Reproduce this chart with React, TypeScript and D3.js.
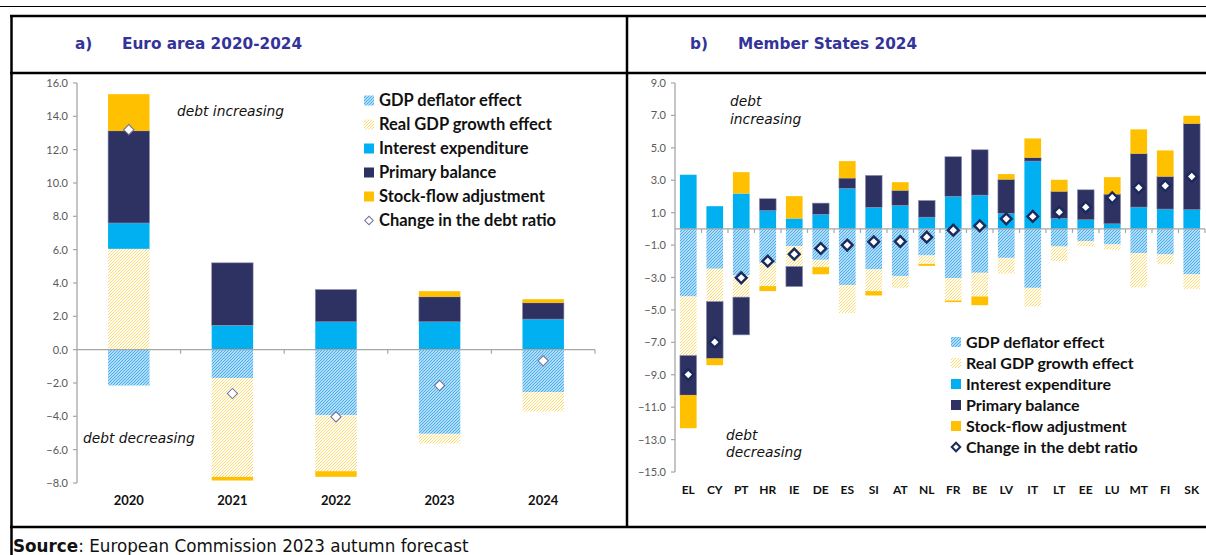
import * as d3 from 'd3'

// a) Euro area 2020-2024
const YEARS = ['2020', '2021', '2022', '2023', '2024']
const EA_DEFLATOR = [-2.15, -1.7, -3.93, -5.05, -2.55]
const EA_REAL_GDP = [6.05, -5.93, -3.36, -0.58, -1.16]
const EA_INTEREST = [1.55, 1.46, 1.67, 1.67, 1.83]
const EA_PRIMARY = [5.53, 3.75, 1.94, 1.5, 0.98]
const EA_SFA = [2.2, -0.22, -0.34, 0.34, 0.22]
const EA_CHANGE = [13.2, -2.63, -4.03, -2.15, -0.67]

// b) Member States 2024
const MS = ['EL', 'CY', 'PT', 'HR', 'IE', 'DE', 'ES', 'SI', 'AT', 'NL', 'FR', 'BE', 'LV', 'IT', 'LT', 'EE', 'LU', 'MT', 'FI', 'SK']
const MS_DEFLATOR = [-4.17, -2.46, -2.88, -2.1, -1.07, -1.91, -3.47, -2.5, -2.92, -1.64, -3.04, -2.71, -1.79, -3.64, -1.09, -0.76, -0.96, -1.5, -1.58, -2.81]
const MS_REAL_GDP = [-3.64, -2.02, -1.33, -1.43, -1.25, -0.45, -1.73, -1.34, -0.74, -0.52, -1.38, -1.46, -0.98, -1.15, -0.9, -0.31, -0.33, -2.1, -0.6, -0.89]
const MS_INTEREST = [3.34, 1.4, 2.18, 1.12, 0.64, 0.89, 2.49, 1.32, 1.44, 0.72, 2.0, 2.08, 0.95, 4.18, 0.64, 0.56, 0.31, 1.34, 1.22, 1.18]
const MS_PRIMARY = [-2.45, -3.52, -2.33, 0.74, -1.24, 0.7, 0.64, 1.98, 0.93, 1.03, 2.45, 2.8, 2.1, 0.21, 1.67, 1.85, 1.83, 3.3, 2.01, 5.31]
const MS_SFA = [-2.04, -0.41, 1.32, -0.31, 1.38, -0.44, 1.05, -0.27, 0.51, -0.12, -0.1, -0.54, 0.33, 1.19, 0.72, 0, 1.05, 1.5, 1.61, 0.49]
const MS_CHANGE = [-8.99, -6.99, -3.02, -1.99, -1.56, -1.21, -1.0, -0.8, -0.78, -0.51, -0.08, 0.19, 0.62, 0.77, 1.03, 1.34, 1.92, 2.54, 2.66, 3.23]

const KEYS = ['deflator', 'realGdp', 'interest', 'primary', 'sfa']
const LABELS = ['GDP deflator effect', 'Real GDP growth effect', 'Interest expenditure', 'Primary balance', 'Stock-flow adjustment']
const FILL: Record<string, string> = {
  deflator: 'url(#hatchBlue)',
  realGdp: 'url(#hatchYellow)',
  interest: '#00B0F0',
  primary: '#2E3262',
  sfa: '#FFC000',
}

const TITLE_C = '#333399'
const AXIS_C = '#A6A6A6'
const TICK_C = '#595959'
const TICK_FONT = 'Lato, "Open Sans", sans-serif'
const ITALIC_FONT = '"DejaVu Sans", sans-serif'

interface PanelProps {
  cats: string[]
  deflator: number[]
  realGdp: number[]
  interest: number[]
  primary: number[]
  sfa: number[]
  change: number[]
  x0: number
  x1: number
  domain: [number, number]
  range: [number, number]
  barFrac: number
  catY: number
  catSize: number
  diamond: { size: number; stroke: string; width: number }
}

function Panel(p: PanelProps) {
  const rows = p.cats.map((c, i) => ({
    cat: c,
    deflator: p.deflator[i],
    realGdp: p.realGdp[i],
    interest: p.interest[i],
    primary: p.primary[i],
    sfa: p.sfa[i],
  }))
  const stacked = d3.stack<any>().keys(KEYS).offset(d3.stackOffsetDiverging)(rows)
  const x = d3.scaleBand().domain(p.cats).range([p.x0, p.x1]).padding(0)
  const y = d3.scaleLinear().domain(p.domain).range(p.range)
  const ticks = d3.range(p.domain[0], p.domain[1] + 0.01, 2)
  const bw = x.bandwidth() * p.barFrac
  const diamondPath = d3.symbol(d3.symbolSquare, p.diamond.size)()!

  return (
    <g>
      {/* y axis */}
      <line x1={p.x0} x2={p.x0} y1={y(p.domain[1])} y2={y(p.domain[0])} stroke={AXIS_C} strokeWidth={1.3} />
      {ticks.map(t => (
        <g key={t}>
          <line x1={p.x0 - 4} x2={p.x0} y1={y(t)} y2={y(t)} stroke={AXIS_C} strokeWidth={1.2} />
          <text x={p.x0 - 9} y={y(t) + 4} textAnchor="end" fontSize={11} fill={TICK_C} fontFamily={TICK_FONT}>
            {d3.format('.1f')(t)}
          </text>
        </g>
      ))}
      {/* bars */}
      {stacked.map(s => (
        <g key={s.key}>
          {s.map((d, i) => {
            const top = y(d[1]), bot = y(d[0])
            if (Math.abs(bot - top) < 0.01) return null
            return (
              <rect key={i} x={x(p.cats[i])! + (x.bandwidth() - bw) / 2} y={top} width={bw} height={bot - top}
                fill={FILL[s.key]} stroke={s.key === 'primary' ? '#8F91B5' : 'none'} strokeWidth={0.6} />
            )
          })}
        </g>
      ))}
      {/* zero axis */}
      <line x1={p.x0} x2={p.x1} y1={y(0)} y2={y(0)} stroke={AXIS_C} strokeWidth={1.3} />
      {p.cats.map(c => (
        <line key={c} x1={x(c)! + x.bandwidth()} x2={x(c)! + x.bandwidth()} y1={y(0)} y2={y(0) + 4} stroke={AXIS_C} strokeWidth={1.2} />
      ))}
      {/* change in debt ratio */}
      {p.change.map((v, i) => (
        <path key={i} d={diamondPath} transform={`translate(${x(p.cats[i])! + x.bandwidth() / 2},${y(v)}) rotate(45)`}
          fill="#fff" stroke={p.diamond.stroke} strokeWidth={p.diamond.width} />
      ))}
      {/* categories */}
      {p.cats.map(c => (
        <text key={c} x={x(c)! + x.bandwidth() / 2} y={p.catY} textAnchor="middle" fontSize={p.catSize}
          fontWeight="bold" fill="#111" fontFamily={TICK_FONT}>{c}</text>
      ))}
    </g>
  )
}

function Legend({ x, y0, step, size, diamond }: { x: number; y0: number; step: number; size: number; diamond: { stroke: string; width: number } }) {
  const dp = d3.symbol(d3.symbolSquare, 36)()!
  const items = [...LABELS, 'Change in the debt ratio']
  return (
    <g>
      {items.map((lab, i) => {
        const cy = y0 + i * step
        return (
          <g key={lab}>
            {i < 5 ? (
              <rect x={x} y={cy - 5} width={10} height={10} fill={FILL[KEYS[i]]} />
            ) : (
              <path d={dp} transform={`translate(${x + 5},${cy}) rotate(45)`} fill="#fff" stroke={diamond.stroke} strokeWidth={diamond.width} />
            )}
            <text x={x + 15} y={cy + 5.5} fontSize={size} fontWeight="bold" fill="#111" fontFamily={TICK_FONT}>{lab}</text>
          </g>
        )
      })}
    </g>
  )
}

export default function App() {
  const W = 1206, H = 555
  return (
    <svg width={W} height={H} style={{ position: 'absolute', left: 0, top: 0, background: '#fff' }}>
      <defs>
        <pattern id="hatchBlue" patternUnits="userSpaceOnUse" width={3} height={3}>
          <rect width={3} height={3} fill="#fff" />
          <path d="M-1,1 l2,-2 M0,3 l3,-3 M2,4 l2,-2" stroke="#4DB0EE" strokeWidth={1.3} />
        </pattern>
        <pattern id="hatchYellow" patternUnits="userSpaceOnUse" width={3} height={3}>
          <rect width={3} height={3} fill="#fff" />
          <path d="M-1,1 l2,-2 M0,3 l3,-3 M2,4 l2,-2" stroke="#FFDA6A" strokeWidth={1} />
        </pattern>
      </defs>

      {/* table frame */}
      <line x1={0} x2={W} y1={6.5} y2={6.5} stroke="#000" strokeWidth={1.2} />
      <line x1={10} x2={W} y1={16} y2={16} stroke="#000" strokeWidth={2.5} />
      <line x1={10} x2={W} y1={73} y2={73} stroke="#000" strokeWidth={2.5} />
      <line x1={10} x2={W} y1={527} y2={527} stroke="#000" strokeWidth={2.5} />
      <line x1={11.5} x2={11.5} y1={15} y2={H} stroke="#000" strokeWidth={2.5} />
      <line x1={627} x2={627} y1={15} y2={527} stroke="#000" strokeWidth={2.5} />

      {/* headers */}
      <g fontFamily='"DejaVu Sans", sans-serif' fontWeight="bold" fontSize={15.3} fill={TITLE_C}>
        <text x={75} y={49}>a)</text>
        <text x={122} y={49}>Euro area 2020-2024</text>
        <text x={690} y={49}>b)</text>
        <text x={738} y={49}>Member States 2024</text>
      </g>

      <Panel cats={YEARS} deflator={EA_DEFLATOR} realGdp={EA_REAL_GDP} interest={EA_INTEREST} primary={EA_PRIMARY}
        sfa={EA_SFA} change={EA_CHANGE} x0={77} x1={595} domain={[-8, 16]} range={[483, 83]} barFrac={0.4}
        catY={505} catSize={13} diamond={{ size: 52, stroke: '#6E7096', width: 1 }} />
      <Legend x={364} y0={100.5} step={24} size={16.5} diamond={{ stroke: '#6E7096', width: 1 }} />
      <text x={177} y={116} fontSize={13.8} fontStyle="italic" fill="#111" fontFamily={ITALIC_FONT}>debt increasing</text>
      <text x={83} y={443} fontSize={13.8} fontStyle="italic" fill="#111" fontFamily={ITALIC_FONT}>debt decreasing</text>

      <Panel cats={MS} deflator={MS_DEFLATOR} realGdp={MS_REAL_GDP} interest={MS_INTEREST} primary={MS_PRIMARY}
        sfa={MS_SFA} change={MS_CHANGE} x0={675} x1={1205} domain={[-15, 9]} range={[472, 83]} barFrac={0.63}
        catY={494} catSize={12} diamond={{ size: 58, stroke: '#1B2A5C', width: 2.4 }} />
      <Legend x={951} y0={342} step={21} size={16} diamond={{ stroke: '#1B2A5C', width: 2 }} />
      <g fontSize={13.8} fontStyle="italic" fill="#111" fontFamily={ITALIC_FONT}>
        <text x={730} y={106}>debt</text>
        <text x={730} y={124}>increasing</text>
        <text x={726} y={440}>debt</text>
        <text x={726} y={457}>decreasing</text>
      </g>

      {/* source */}
      <text x={13} y={552} fontSize={16.8} fill="#111" fontFamily='"DejaVu Sans", sans-serif'>
        <tspan fontWeight="bold">Source</tspan>: European Commission 2023 autumn forecast
      </text>
    </svg>
  )
}
